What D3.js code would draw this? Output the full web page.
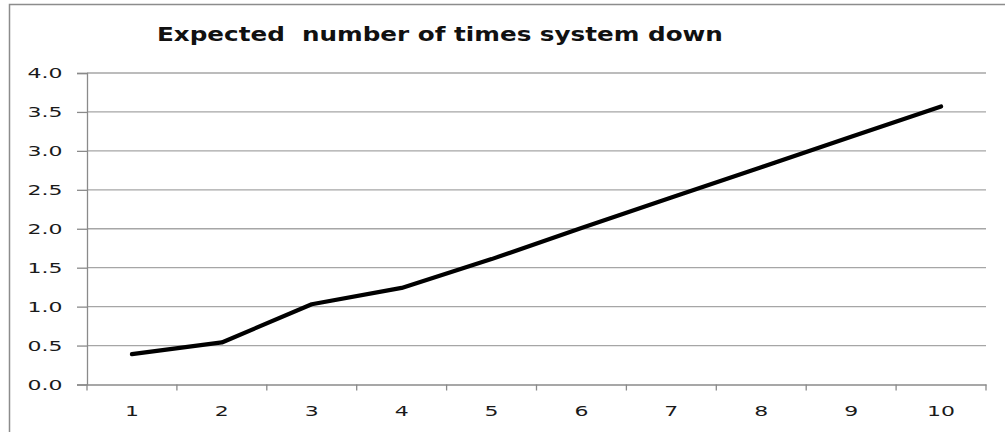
<!DOCTYPE html>
<html>
<head>
<meta charset="utf-8">
<script src="https://cdn.jsdelivr.net/npm/d3@7"></script>
<style>
  html, body { margin: 0; padding: 0; background: #fff; }
  svg { display: block; }
  text { font-family: "DejaVu Sans", Verdana, sans-serif; }
</style>
</head>
<body>
<svg id="chart" width="1005" height="432"></svg>
<script>
// Chart data
const categories = ["1", "2", "3", "4", "5", "6", "7", "8", "9", "10"];
const expectedDown = [0.39, 0.54, 1.03, 1.24, 1.61, 2.01, 2.40, 2.79, 3.18, 3.57];
const yTicks = [0.0, 0.5, 1.0, 1.5, 2.0, 2.5, 3.0, 3.5, 4.0];
const titleText = "Expected  number of times system down";

const svg = d3.select("#chart");
const W = 1005, H = 432;
const plot = { left: 87, right: 986, top: 73, bottom: 384.5 };
const labelSize = 13.5;
const labelColor = "#1a1a1a";

// Outer chart frame (extends past the visible canvas on right and bottom)
svg.append("rect")
  .attr("x", 9.5).attr("y", 4.5)
  .attr("width", W + 20).attr("height", H + 20)
  .attr("fill", "#fff")
  .attr("stroke", "#8c8c8c")
  .attr("stroke-width", 1.5);

const x = d3.scaleBand().domain(categories).range([plot.left, plot.right]).padding(0);
const y = d3.scaleLinear().domain([0, 4]).range([plot.bottom, plot.top]);
const fmt = d3.format(".1f");

// Wide-set label lettering: horizontal stretch so "4.0" spans ~35px
const probe = svg.append("text").attr("font-size", labelSize).text(fmt(4));
const labelStretch = 35 / probe.node().getComputedTextLength();
probe.remove();

// Horizontal gridlines
svg.append("g")
  .selectAll("line")
  .data(yTicks.filter(d => d > 0))
  .join("line")
  .attr("x1", plot.left).attr("x2", plot.right)
  .attr("y1", d => y(d)).attr("y2", d => y(d))
  .attr("stroke", "#a6a6a6")
  .attr("stroke-width", 1.3);

// Y axis
const yAxis = svg.append("g")
  .attr("transform", `translate(${plot.left},0)`)
  .call(d3.axisLeft(y).tickValues(yTicks).tickFormat(fmt).tickSize(10).tickPadding(14))
  .attr("font-size", labelSize);
yAxis.select(".domain").attr("stroke", "#8a8a8a").attr("stroke-width", 1.3);
yAxis.selectAll(".tick line").attr("stroke", "#8a8a8a").attr("stroke-width", 1.3);
yAxis.selectAll(".tick text")
  .attr("x", 0)
  .attr("dy", "0.36em")
  .attr("font-size", labelSize)
  .attr("transform", `translate(-24.5,0) scale(${labelStretch},1)`)
  .attr("fill", labelColor);

// X axis with ticks on category boundaries
const xAxis = svg.append("g")
  .attr("transform", `translate(0,${plot.bottom})`)
  .call(d3.axisBottom(x).tickSize(0).tickPadding(22))
  .attr("font-size", labelSize);
xAxis.select(".domain").attr("stroke", "#8a8a8a").attr("stroke-width", 1.3);
xAxis.selectAll(".tick text")
  .attr("font-size", labelSize)
  .attr("transform", `scale(${labelStretch},1)`)
  .attr("fill", labelColor);
const boundaries = categories.map(c => x(c)).concat([x(categories[categories.length - 1]) + x.bandwidth()]);
xAxis.selectAll("line.boundary")
  .data(boundaries)
  .join("line")
  .attr("class", "boundary")
  .attr("x1", d => d).attr("x2", d => d)
  .attr("y1", 0).attr("y2", 6)
  .attr("stroke", "#8a8a8a")
  .attr("stroke-width", 1.3);

// Series line
const line = d3.line()
  .x((d, i) => x(categories[i]) + x.bandwidth() / 2)
  .y(d => y(d));
svg.append("path")
  .datum(expectedDown)
  .attr("d", line)
  .attr("fill", "none")
  .attr("stroke", "#000")
  .attr("stroke-width", 4.2)
  .attr("stroke-linejoin", "round")
  .attr("stroke-linecap", "round");

// Title: bold, stretched horizontally to span its slot
const titleX = 157, titleY = 40.5, titleWidth = 566;
const title = svg.append("text")
  .attr("x", 0).attr("y", 0)
  .attr("fill", "#111")
  .attr("font-weight", "bold")
  .attr("font-size", 19)
  .style("white-space", "pre")
  .text(titleText);
const natural = title.node().getComputedTextLength();
title.attr("transform", `translate(${titleX},${titleY}) scale(${(titleWidth / natural).toFixed(4)},1)`);
</script>
</body>
</html>
